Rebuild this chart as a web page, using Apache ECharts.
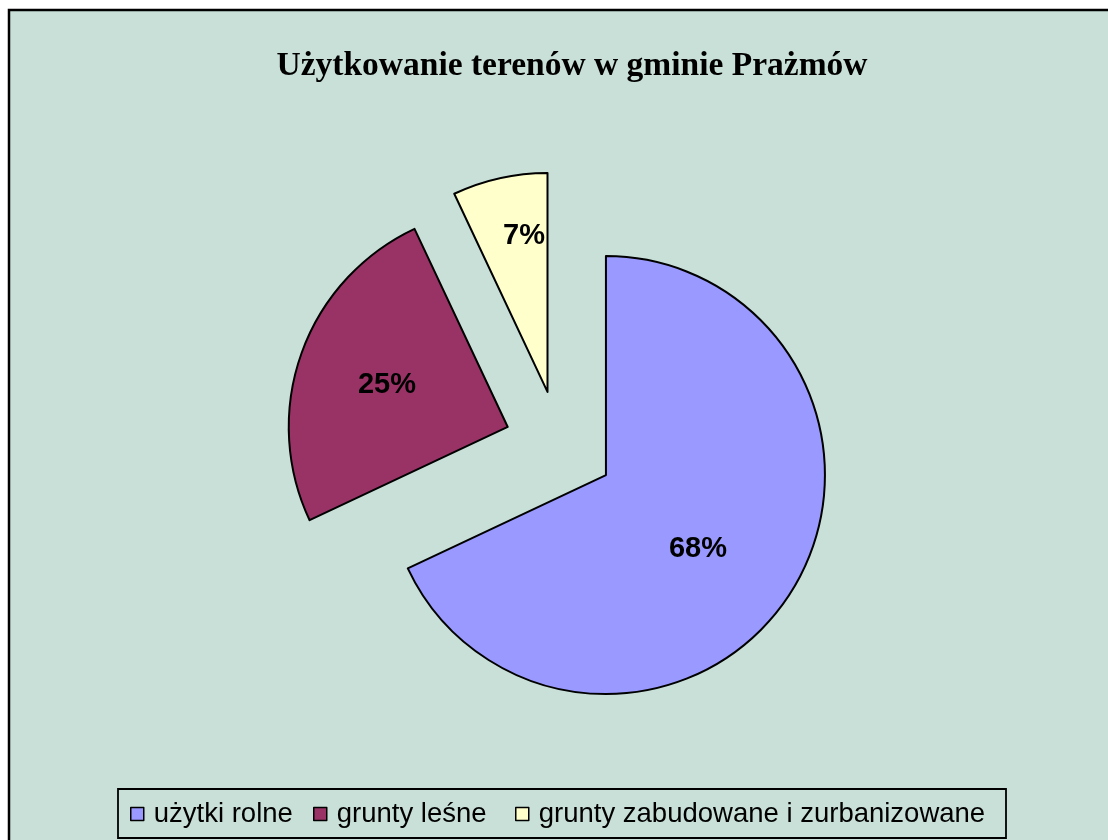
<!DOCTYPE html>
<html>
<head>
<meta charset="utf-8">
<script src="https://cdn.jsdelivr.net/npm/echarts@6/dist/echarts.min.js"></script>
<style>
html,body{margin:0;padding:0;background:#fff;}
#c{width:1108px;height:840px;}
</style>
</head>
<body>
<div id="c"></div>
<script>
const titleText = 'Użytkowanie terenów w gminie Prażmów';
const categories = ['użytki rolne', 'grunty leśne', 'grunty zabudowane i zurbanizowane'];
const values = [68, 25, 7];
const labels = ['68%', '25%', '7%'];

const colors = ['#9999FF', '#993366', '#FFFFCC'];
const labelOffsets = [[-3, 14], [-15, -4], [1, -46]];
const legendLefts = [130, 313, 515];

const chart = echarts.init(document.getElementById('c'), null, {renderer: 'canvas'});

const data = categories.map((name, i) => ({
  name: name,
  value: values[i],
  selected: true,
  itemStyle: {color: colors[i]},
  label: {formatter: labels[i]}
}));

const legends = categories.map((name, i) => ({
  data: [name],
  left: legendLefts[i],
  top: 800,
  padding: 0,
  itemWidth: 13,
  itemHeight: 13,
  icon: 'rect',
  selectedMode: false,
  itemStyle: {borderColor: '#000', borderWidth: 1.5},
  textStyle: {fontFamily: 'Liberation Sans, Arial, sans-serif', fontSize: 27.5, color: '#000', lineHeight: 26, padding: [0, 0, 0, 5]}
}));

chart.setOption({
  animation: false,
  backgroundColor: '#ffffff',
  graphic: [
    {type: 'rect', z: -10, shape: {x: 9, y: 10, width: 1115, height: 845}, style: {fill: '#C8E0D8', stroke: '#000', lineWidth: 2.5}},
    {type: 'rect', z: -5, shape: {x: 118, y: 789, width: 888, height: 49}, style: {fill: 'none', stroke: '#000', lineWidth: 1.8}}
  ],
  title: {
    text: titleText,
    left: 567,
    textAlign: 'center',
    top: 44,
    textStyle: {fontFamily: 'Liberation Serif, Times New Roman, serif', fontWeight: 'bold', fontSize: 33.5, color: '#000'}
  },
  legend: legends,
  series: [{
    type: 'pie',
    center: [559.5, 445.6],
    radius: [0, 219],
    startAngle: 90,
    clockwise: true,
    selectedMode: 'multiple',
    selectedOffset: 55,
    avoidLabelOverlap: false,
    emphasis: {disabled: true, scale: false},
    select: {disabled: false, itemStyle: {borderColor: '#000', borderWidth: 2}},
    itemStyle: {borderColor: '#000', borderWidth: 2},
    label: {
      show: true,
      position: 'inside',
      fontFamily: 'Liberation Sans, Arial, sans-serif',
      fontWeight: 'bold',
      fontSize: 29,
      color: '#000'
    },
    labelLayout: function (params) {
      const o = labelOffsets[params.dataIndex];
      return {dx: o[0], dy: o[1]};
    },
    labelLine: {show: false},
    data: data
  }]
});
</script>
</body>
</html>
